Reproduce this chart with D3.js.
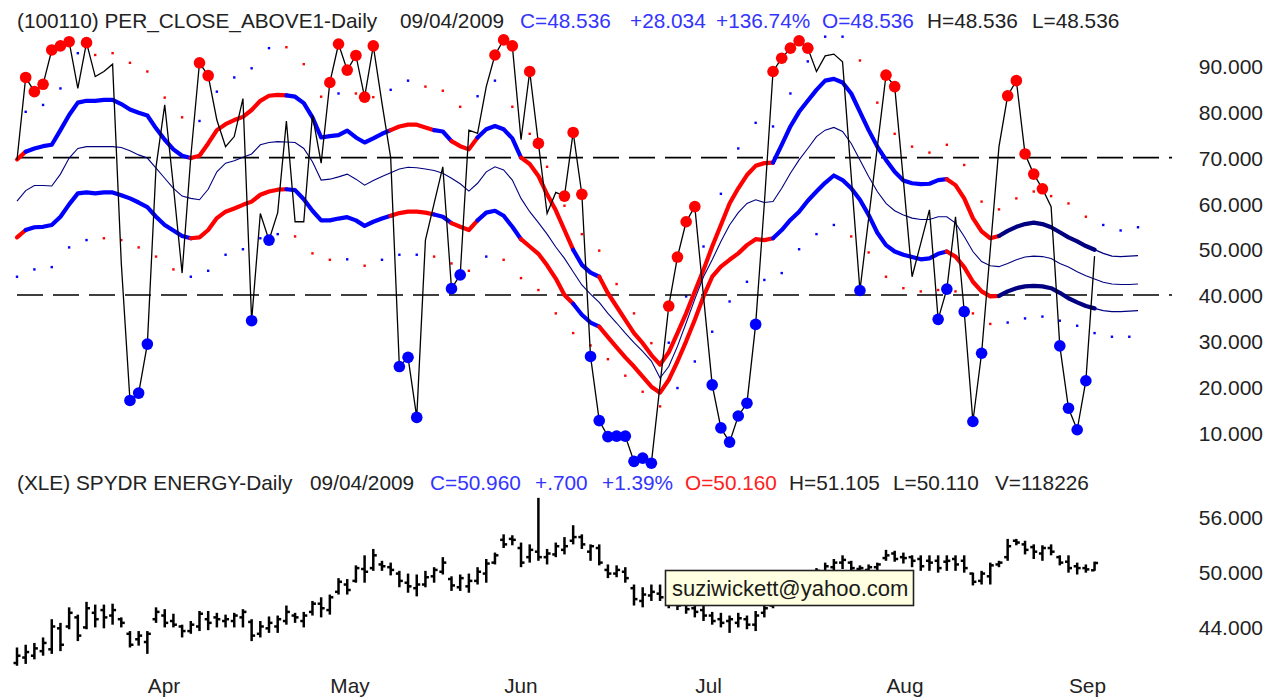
<!DOCTYPE html>
<html><head><meta charset="utf-8">
<script src="https://cdn.jsdelivr.net/npm/d3@7"></script>
<style>
html,body{margin:0;padding:0;background:#fff;}
svg{display:block;font-family:"Liberation Sans",Arial,sans-serif;}
</style></head><body>
<svg id="chart" width="1278" height="698"></svg>
<script>
// ---------------- DATA ----------------
// PER_CLOSE_ABOVE1 daily values, 03/11/2009 .. 09/04/2009 (125 trading days)
const pct = [69.5, 87.5, 84.4, 86, 93.5, 94.4, 95.3, 85.1, 95.1, 87.7,
 88.8, 90.4, 47, 17, 18.6, 29.3, 68, 81.5, 63.7, 44.8,
 70.2, 90.7, 87.9, 78.2, 72.4, 74.6, 82.9, 34.4, 57.8, 52,
 58, 78, 56, 56, 79.3, 68.8, 86.4, 94.8, 89.1, 92.3,
 83.2, 94.4, 81.9, 70, 24.4, 26.4, 13.3, 52, 60, 68,
 41.4, 44.4, 76, 75.3, 85.5, 92.4, 95.7, 94.4, 73.9, 88.8,
 73.1, 57.8, 62.4, 61.6, 75.5, 62, 26.6, 12.6, 9.1, 9.2,
 9.2, 3.7, 4.4, 3.3, 20.5, 37.6, 48.3, 56, 59.3, 39.7,
 20.4, 11, 7.9, 13.6, 16.4, 33.6, 60, 88.8, 91.7, 93.9,
 95.5, 93.9, 88.8, 92.2, 92.6, 90.9, 65.9, 41, 56.7, 72.3,
 88, 85.5, 65.1, 44, 51.3, 58.6, 34.7, 41.3, 57.1, 36.4,
 12.4, 27.3, 49.9, 72.4, 83.5, 86.8, 70.8, 66.4, 63.2, 59.3,
 28.9, 15.3, 10.6, 21.3, 48.5];
// signal markers: r = overbought (red), b = oversold (blue), . = none
const signals = (".rrrrrr.r." + "...bbb...." + ".rr....b.b" + "......rrrr" + "rr..bbb..." +
 "bb...rrr.r" + "r..rrrbbbb" + "bbbb.rrrr." + "bbbbbb.rrr" + "rr.....b.." +
 "rr....bb.b" + "bb..rrrrr." + "bbbb.").split("");
// envelope bands (125 days + 5 projected)
const upperBand = [69.6, 71.3, 72.0, 72.5, 72.8, 76.0, 79.3, 82.0, 82.4, 82.4,
 82.6, 82.6, 81.7, 80.5, 79.8, 79.2, 76.4, 73.9, 71.8, 70.4,
 69.9, 70.4, 73.1, 76.0, 77.3, 78.2, 78.9, 80.4, 82.4, 83.5,
 83.7, 83.6, 83.3, 81.9, 78.8, 74.4, 74.7, 74.9, 75.9, 74.4,
 73.3, 74.2, 75.2, 76.0, 76.8, 77.2, 77.2, 76.6, 76.0, 75.7,
 73.6, 72.5, 71.8, 74.4, 76.2, 76.9, 76.2, 74.2, 70.0, 68.6,
 66.0, 62.0, 58.5, 54.2, 49.9, 46.6, 44.9, 44.0, 40.4, 37.5,
 34.6, 31.7, 29.5, 26.9, 24.8, 27.5, 31.7, 36.0, 40.8, 45.5,
 50.6, 55.3, 60.0, 63.3, 66.2, 68.2, 68.8, 68.9, 72.8, 76.8,
 80.0, 82.4, 84.8, 86.8, 87.2, 86.4, 84.0, 80.0, 76.0, 72.4,
 69.5, 66.9, 65.0, 64.4, 64.2, 64.3, 65.1, 65.3, 64.0, 61.1,
 56.8, 53.9, 52.4, 52.9, 54.0, 54.9, 55.5, 55.8, 55.5, 54.8,
 53.7, 52.6, 51.7, 50.7, 49.9, 49.1, 48.5, 48.4, 48.5, 48.6];
const midBand = [60.5, 62.8, 63.9, 63.9, 63.8, 66.4, 69.9, 72.0, 72.4, 72.4,
 72.4, 72.4, 72.2, 71.5, 70.6, 69.9, 67.7, 65.5, 63.3, 61.6,
 61.1, 60.8, 63.1, 66.9, 68.8, 69.3, 70.1, 70.8, 72.8, 73.3,
 73.5, 73.4, 73.3, 72.0, 69.1, 65.1, 65.3, 65.8, 66.4, 65.3,
 64.0, 65.0, 65.9, 66.7, 67.5, 67.9, 67.8, 67.5, 67.2, 66.6,
 65.5, 64.3, 62.7, 64.4, 66.9, 68.0, 67.3, 65.1, 61.1, 58.2,
 55.8, 53.3, 50.5, 48.0, 45.1, 42.2, 40.2, 38.4, 36.0, 33.9,
 31.7, 29.6, 27.7, 25.6, 21.9, 24.4, 28.8, 33.9, 39.1, 44.0,
 47.7, 51.7, 55.3, 58.0, 60.0, 60.8, 60.2, 60.4, 63.3, 66.6,
 69.5, 72.0, 74.6, 76.0, 76.6, 75.7, 73.1, 69.5, 65.9, 62.6,
 60.0, 58.4, 57.5, 56.8, 56.5, 56.5, 57.1, 57.1, 55.7, 52.8,
 49.5, 47.3, 46.4, 46.2, 46.9, 47.7, 48.3, 48.5, 48.4, 48.0,
 46.9, 46.1, 45.1, 44.2, 43.5, 42.8, 42.4, 42.3, 42.3, 42.4];
const lowerBand = [52.6, 54.2, 54.8, 54.9, 55.3, 57.1, 59.8, 62.2, 62.4, 62.2,
 62.4, 62.4, 61.8, 61.1, 60.2, 59.2, 57.1, 55.3, 54.1, 52.9,
 52.4, 52.6, 54.2, 56.8, 58.2, 58.9, 59.7, 60.4, 61.9, 62.6,
 63.0, 63.1, 62.9, 60.9, 58.4, 56.3, 56.3, 56.7, 57.0, 56.3,
 55.1, 56.0, 56.7, 57.3, 57.9, 58.2, 58.2, 58.0, 57.6, 57.1,
 55.7, 54.9, 54.2, 56.3, 58.0, 58.4, 57.3, 54.9, 52.2, 50.6,
 49.0, 46.5, 43.6, 40.0, 38.1, 35.7, 34.0, 33.1, 30.8, 28.6,
 26.4, 24.4, 22.2, 20.0, 18.7, 21.5, 25.5, 29.9, 34.6, 39.7,
 44.0, 46.2, 47.7, 49.1, 50.9, 52.2, 52.0, 52.4, 54.2, 56.4,
 58.2, 60.6, 62.6, 64.5, 66.1, 65.1, 63.3, 60.8, 57.5, 53.6,
 50.9, 49.5, 48.8, 48.3, 47.8, 48.0, 49.0, 49.5, 48.4, 46.1,
 42.9, 40.8, 39.7, 39.8, 40.8, 41.5, 41.9, 42.0, 41.9, 41.5,
 40.5, 39.3, 38.4, 37.6, 37.1, 36.6, 36.4, 36.4, 36.5, 36.6];
// band trend state per segment: r = red, b = blue, n = navy
const bandState = ("rbbbbbbbbb" + "bbbbbbbbbb" + "rrrrrrrrrr" + "rbbbbbbbbb" + "bbbrrrrrbb" +
 "rrrbbbbbrr" + "rrrrbbbrrr" + "rrrrrrrrrr" + "rrrrrrrbbb" + "bbbbbbbbbb" +
 "bbbbbbbrrr" + "rrrnnnnnnn" + "nnnn").split("");
// outer dotted envelope (upper on odd days 1..129, lower on even days 0..128)
const upperDots = [80.0, 81.5, 85.1, 92.8, 92.4, 92.8, 90.7, 88.8, 83.1, 78.8,
 78.0, 84.4, 87.5, 89.5, 93.9, 94.1, 90.4, 83.3, 84.0, 84.0,
 83.2, 84.8, 86.8, 85.5, 84.6, 81.1, 83.4, 86.8, 81.1, 75.2,
 68.0, 59.5, 53.3, 49.7, 42.4, 36.0, 29.5, 29.6, 39.7, 50.6,
 62.1, 72.0, 77.6, 76.8, 84.0, 91.0, 96.4, 96.4, 91.2, 82.0,
 75.2, 72.4, 71.1, 72.8, 68.4, 60.4, 58.7, 61.1, 62.6, 61.6,
 60.0, 57.1, 55.3, 54.1, 54.8];
const upperDotColors = ("bbbbrrrrrr" + "bbbbbrrrbr" + "rbbrrrbbrr" + "rrrrrrrbbb" +
 "bbbbbbbbrr" + "rrrrrrrrrr" + "rrbbb").split("");
const lowerDots = [44.0, 45.6, 46.1, 50.4, 52.0, 52.4, 52.0, 50.4, 48.4, 45.6,
 44.0, 45.3, 48.8, 50.0, 52.4, 53.3, 52.8, 49.1, 47.7, 47.8,
 46.4, 47.7, 48.8, 48.8, 48.4, 46.9, 45.3, 48.4, 47.7, 43.7,
 41.1, 36.0, 31.7, 29.0, 26.0, 22.4, 18.9, 15.7, 19.7, 25.5,
 32.0, 38.6, 42.9, 43.3, 44.8, 50.0, 53.3, 55.3, 52.8, 49.3,
 44.0, 41.5, 40.8, 41.1, 40.8, 36.0, 33.7, 34.0, 34.9, 35.3,
 34.4, 33.3, 31.7, 30.9, 30.9];
const lowerDotColors = ("bbbbbrrrrr" + "bbbbbbrrrb" + "rbbbrrrbrr" + "rrrrrrrrbb" +
 "bbbbbbbbrr" + "rrrrrrrbbb" + "bbbbb").split("");
const refLevels = [70, 40];
const topTicks = [90, 80, 70, 60, 50, 40, 30, 20, 10];

// XLE daily OHLC
const xleHigh = [41.7, 42.0, 42.2, 42.8, 44.8, 44.4, 46.1, 45.3, 46.7, 46.4,
 46.4, 46.5, 45.0, 43.5, 43.5, 43.5, 46.1, 45.9, 45.4, 44.2,
 44.6, 45.7, 45.7, 45.5, 45.3, 45.5, 45.9, 44.8, 44.6, 45.1,
 45.2, 46.3, 45.5, 45.6, 46.8, 47.2, 47.5, 49.3, 49.2, 50.7,
 51.8, 52.5, 51.2, 51.0, 50.1, 49.8, 49.7, 50.1, 50.5, 51.6,
 49.5, 49.7, 49.8, 50.5, 51.4, 52.1, 54.1, 54.0, 53.2, 53.0,
 58.1, 52.5, 53.2, 53.8, 55.1, 54.1, 53.0, 53.0, 50.8, 50.7,
 50.5, 48.6, 48.3, 48.6, 48.6, 47.6, 47.3, 47.0, 46.8, 46.5,
 45.6, 45.5, 45.2, 45.5, 45.2, 45.7, 46.3, 47.3, 48.3, 49.0,
 49.5, 50.0, 50.4, 51.0, 51.4, 51.8, 51.2, 50.7, 50.8, 51.0,
 52.4, 52.3, 52.1, 51.8, 51.8, 51.8, 51.8, 51.8, 51.8, 51.8,
 49.9, 50.1, 51.0, 51.2, 53.6, 53.6, 53.4, 53.0, 52.9, 53.0,
 51.8, 51.8, 51.0, 50.8, 51.105];
const xleLow = [39.7, 39.9, 40.4, 40.8, 41.0, 41.3, 43.7, 42.4, 43.7, 43.9,
 43.8, 44.2, 43.9, 41.7, 41.9, 41.0, 44.4, 43.9, 43.9, 42.8,
 43.2, 43.5, 43.6, 43.9, 43.9, 43.9, 43.9, 42.4, 42.8, 43.3,
 43.3, 44.2, 44.4, 43.9, 45.2, 45.0, 45.3, 47.5, 47.5, 48.8,
 48.8, 50.1, 50.1, 49.6, 48.3, 47.7, 47.3, 48.3, 48.8, 49.7,
 47.9, 47.9, 47.7, 48.6, 48.8, 50.8, 52.6, 52.9, 50.5, 51.0,
 51.2, 50.8, 51.6, 51.9, 53.0, 52.5, 51.2, 50.7, 49.3, 49.4,
 48.8, 46.3, 46.1, 46.8, 46.8, 46.0, 45.8, 45.4, 45.0, 44.6,
 44.2, 43.9, 43.3, 43.9, 43.7, 43.5, 45.0, 46.0, 46.8, 47.5,
 48.0, 48.5, 48.8, 49.5, 50.0, 50.3, 50.0, 49.8, 49.8, 49.9,
 51.2, 51.1, 50.9, 50.5, 50.1, 50.1, 49.9, 50.1, 50.1, 49.9,
 48.5, 48.6, 48.6, 50.5, 51.2, 52.9, 51.9, 51.4, 51.2, 51.8,
 50.7, 49.9, 49.7, 49.9, 50.11];
const xleOpen = [40.0, 40.6, 40.8, 41.3, 41.5, 43.8, 44.0, 45.0, 43.9, 45.5,
 45.8, 45.2, 44.8, 43.2, 42.6, 42.3, 44.8, 45.2, 44.6, 44.0,
 43.5, 44.0, 44.8, 45.0, 44.6, 44.6, 45.0, 44.5, 43.2, 43.8,
 44.0, 44.6, 45.2, 44.6, 45.6, 46.5, 45.8, 47.8, 48.6, 49.0,
 50.3, 50.4, 50.8, 50.5, 49.8, 48.8, 48.2, 48.6, 49.5, 50.0,
 49.2, 48.3, 48.4, 49.0, 49.8, 51.0, 53.5, 53.6, 52.6, 51.6,
 52.2, 51.6, 51.9, 52.4, 53.4, 53.8, 52.2, 52.6, 50.2, 49.8,
 50.0, 48.2, 46.8, 47.4, 47.6, 47.0, 46.5, 46.6, 46.0, 45.8,
 45.2, 44.8, 44.6, 44.4, 44.8, 44.2, 45.5, 46.3, 47.2, 47.8,
 48.6, 49.0, 49.5, 50.0, 50.5, 51.0, 51.0, 50.3, 50.2, 50.5,
 51.5, 52.0, 51.6, 51.6, 51.4, 51.2, 51.2, 51.1, 51.4, 51.2,
 49.8, 49.0, 49.5, 50.8, 51.6, 53.4, 53.0, 52.7, 52.0, 52.6,
 51.6, 51.1, 50.6, 50.4, 50.16];
const xleClose = [40.8, 41.2, 41.6, 42.2, 44.0, 42.0, 45.5, 43.0, 46.0, 44.8,
 45.0, 45.8, 44.4, 42.0, 43.0, 43.2, 45.6, 44.4, 44.2, 43.5,
 44.2, 45.4, 44.4, 44.8, 44.8, 45.2, 45.6, 43.0, 44.0, 44.4,
 44.8, 45.6, 45.0, 45.2, 46.5, 46.0, 47.2, 48.9, 48.0, 50.4,
 50.0, 51.8, 50.6, 50.2, 49.0, 48.4, 48.6, 49.4, 50.2, 51.0,
 48.5, 49.3, 49.0, 50.0, 50.9, 51.8, 53.0, 53.5, 51.0, 52.4,
 51.6, 52.0, 52.8, 52.8, 53.8, 53.0, 52.8, 51.0, 49.8, 50.2,
 49.3, 47.0, 47.5, 47.8, 47.2, 46.6, 46.3, 45.9, 45.6, 45.2,
 44.6, 44.4, 44.8, 44.9, 44.2, 45.2, 46.0, 47.0, 47.8, 48.4,
 49.2, 49.4, 50.1, 50.6, 51.0, 51.3, 50.4, 50.4, 50.5, 50.8,
 51.8, 51.4, 51.5, 51.2, 50.6, 51.0, 50.4, 51.2, 50.8, 50.4,
 48.9, 49.8, 50.7, 51.0, 52.8, 53.2, 52.4, 52.2, 52.6, 52.2,
 51.0, 50.4, 50.4, 50.26, 50.96];
const bottomTicks = [56, 50, 44];

const months = ["Apr", "May", "Jun", "Jul", "Aug", "Sep"];
const monthStartIdx = [15, 36, 56, 78, 100, 121];

const topHeader = [
  {t: "(100110) PER_CLOSE_ABOVE1-Daily", c: "dark"},
  {t: "09/04/2009", c: "dark"},
  {t: "C=48.536", c: "blue"},
  {t: "+28.034", c: "blue"},
  {t: "+136.74%", c: "blue"},
  {t: "O=48.536", c: "blue"},
  {t: "H=48.536", c: "dark"},
  {t: "L=48.536", c: "dark"}
];
const bottomHeader = [
  {t: "(XLE) SPYDR ENERGY-Daily", c: "dark"},
  {t: "09/04/2009", c: "dark"},
  {t: "C=50.960", c: "blue"},
  {t: "+.700", c: "blue"},
  {t: "+1.39%", c: "blue"},
  {t: "O=50.160", c: "red"},
  {t: "H=51.105", c: "dark"},
  {t: "L=50.110", c: "dark"},
  {t: "V=118226", c: "dark"}
];
const tooltipText = "suziwickett@yahoo.com";

// ---------------- DRAWING ----------------
const COL = {r: "#ff0000", b: "#0000ff", n: "#000080", dark: "#222222", blue: "#3434ff", red: "#ff2020"};
const svg = d3.select("#chart");
const x = d3.scaleLinear().domain([0, 124]).range([17, 17 + 124 * 8.69]);
const yT = d3.scaleLinear().domain([10, 90]).range([432.5, 66]);
const yB = d3.scaleLinear().domain([44, 56]).range([626.5, 517]);

// headers
const topHeaderX = [17, 400, 520, 630, 716, 822, 927, 1032];
const botHeaderX = [17, 310, 430, 535, 602, 685, 789, 893, 995];
svg.append("g").selectAll("text").data(topHeader).join("text")
  .attr("x", (d, i) => topHeaderX[i]).attr("y", 28)
  .attr("font-size", 20.8).attr("fill", d => COL[d.c]).text(d => d.t);
svg.append("g").selectAll("text").data(bottomHeader).join("text")
  .attr("x", (d, i) => botHeaderX[i]).attr("y", 490)
  .attr("font-size", 20.8).attr("fill", d => COL[d.c]).text(d => d.t);

// right axes
const axT = svg.append("g").attr("transform", "translate(1263,0)")
  .call(d3.axisRight(yT).tickValues(topTicks).tickSize(0).tickPadding(0).tickFormat(d3.format(".3f")));
const axB = svg.append("g").attr("transform", "translate(1263,0)")
  .call(d3.axisRight(yB).tickValues(bottomTicks).tickSize(0).tickPadding(0).tickFormat(d3.format(".3f")));
[axT, axB].forEach(a => {
  a.select(".domain").remove();
  a.selectAll("text").attr("text-anchor", "end").attr("font-size", 21)
    .attr("font-family", "Liberation Sans, Arial, sans-serif").attr("fill", COL.dark).attr("dy", "0.36em");
});

// month axis
const axX = svg.append("g").attr("transform", "translate(0,678)")
  .call(d3.axisBottom(x).tickValues(monthStartIdx).tickSize(0).tickPadding(0)
    .tickFormat((d, i) => months[i]));
axX.select(".domain").remove();
axX.selectAll("text").attr("text-anchor", "start").attr("font-size", 20.8)
  .attr("font-family", "Liberation Sans, Arial, sans-serif").attr("fill", COL.dark)
  .attr("dy", "0.71em").attr("y", 0);

// top panel
const gT = svg.append("g");
// small envelope dots
gT.selectAll("rect.ud").data(upperDots).join("rect").attr("class", "ud")
  .attr("x", (d, k) => x(2 * k + 1) - 1.2).attr("y", d => yT(d) - 1.2)
  .attr("width", 2.4).attr("height", 2.4).attr("fill", (d, k) => COL[upperDotColors[k]]);
gT.selectAll("rect.ld").data(lowerDots).join("rect").attr("class", "ld")
  .attr("x", (d, k) => x(2 * k) - 1.2).attr("y", d => yT(d) - 1.2)
  .attr("width", 2.4).attr("height", 2.4).attr("fill", (d, k) => COL[lowerDotColors[k]]);

// reference dashed lines
gT.selectAll("line.ref").data(refLevels).join("line").attr("class", "ref")
  .attr("x1", 17).attr("x2", 1172).attr("y1", d => yT(d)).attr("y2", d => yT(d))
  .attr("stroke", "#000").attr("stroke-width", 1.6).attr("stroke-dasharray", "26,10");

// bands: thick colored runs
const runs = [];
let s = 0;
for (let i = 1; i <= bandState.length; i++) {
  if (i === bandState.length || bandState[i] !== bandState[s]) { runs.push({c: bandState[s], a: s, b: i}); s = i; }
}
const lineOf = arr => d3.line().x(i => x(i)).y(i => yT(arr[i]));
[upperBand, lowerBand].forEach(arr => {
  runs.forEach(r => {
    gT.append("path").datum(d3.range(r.a, r.b + 1)).attr("d", lineOf(arr))
      .attr("fill", "none").attr("stroke", COL[r.c]).attr("stroke-width", 4.2)
      .attr("stroke-linecap", "round").attr("stroke-linejoin", "round");
  });
  gT.append("path").datum(d3.range(124, arr.length)).attr("d", lineOf(arr))
    .attr("fill", "none").attr("stroke", COL.n).attr("stroke-width", 1.3);
});
// centre line
gT.append("path").datum(d3.range(0, midBand.length)).attr("d", lineOf(midBand))
  .attr("fill", "none").attr("stroke", COL.n).attr("stroke-width", 1.1);

// main line
gT.append("path").datum(d3.range(0, pct.length)).attr("d", lineOf(pct))
  .attr("fill", "none").attr("stroke", "#000").attr("stroke-width", 1.3);

// signal markers
gT.selectAll("circle.sig").data(pct.map((v, i) => ({v, i, s: signals[i]})).filter(d => d.s !== "."))
  .join("circle").attr("class", "sig")
  .attr("cx", d => x(d.i)).attr("cy", d => yT(d.v)).attr("r", 5.8)
  .attr("fill", d => COL[d.s]);

// bottom panel OHLC bars
const gB = svg.append("g").attr("stroke", "#000").attr("stroke-width", 2.5);
const bars = xleHigh.map((h, i) => ({i, h, l: xleLow[i], o: xleOpen[i], c: xleClose[i]}));
gB.selectAll("line.hl").data(bars).join("line").attr("class", "hl")
  .attr("x1", d => x(d.i)).attr("x2", d => x(d.i)).attr("y1", d => yB(d.h)).attr("y2", d => yB(d.l));
gB.selectAll("line.op").data(bars).join("line").attr("class", "op")
  .attr("x1", d => x(d.i) - 3.5).attr("x2", d => x(d.i)).attr("y1", d => yB(d.o)).attr("y2", d => yB(d.o));
gB.selectAll("line.cl").data(bars).join("line").attr("class", "cl")
  .attr("x1", d => x(d.i)).attr("x2", d => x(d.i) + 3.5).attr("y1", d => yB(d.c)).attr("y2", d => yB(d.c));

// tooltip box
const tip = svg.append("g");
tip.append("rect").attr("x", 665.5).attr("y", 570.5).attr("width", 248).attr("height", 35)
  .attr("fill", "#ffffe1").attr("stroke", "#222").attr("stroke-width", 1.6);
tip.append("text").attr("x", 672).attr("y", 596).attr("font-size", 22).attr("fill", "#1a1a1a").text(tooltipText);
</script>
</body></html>
